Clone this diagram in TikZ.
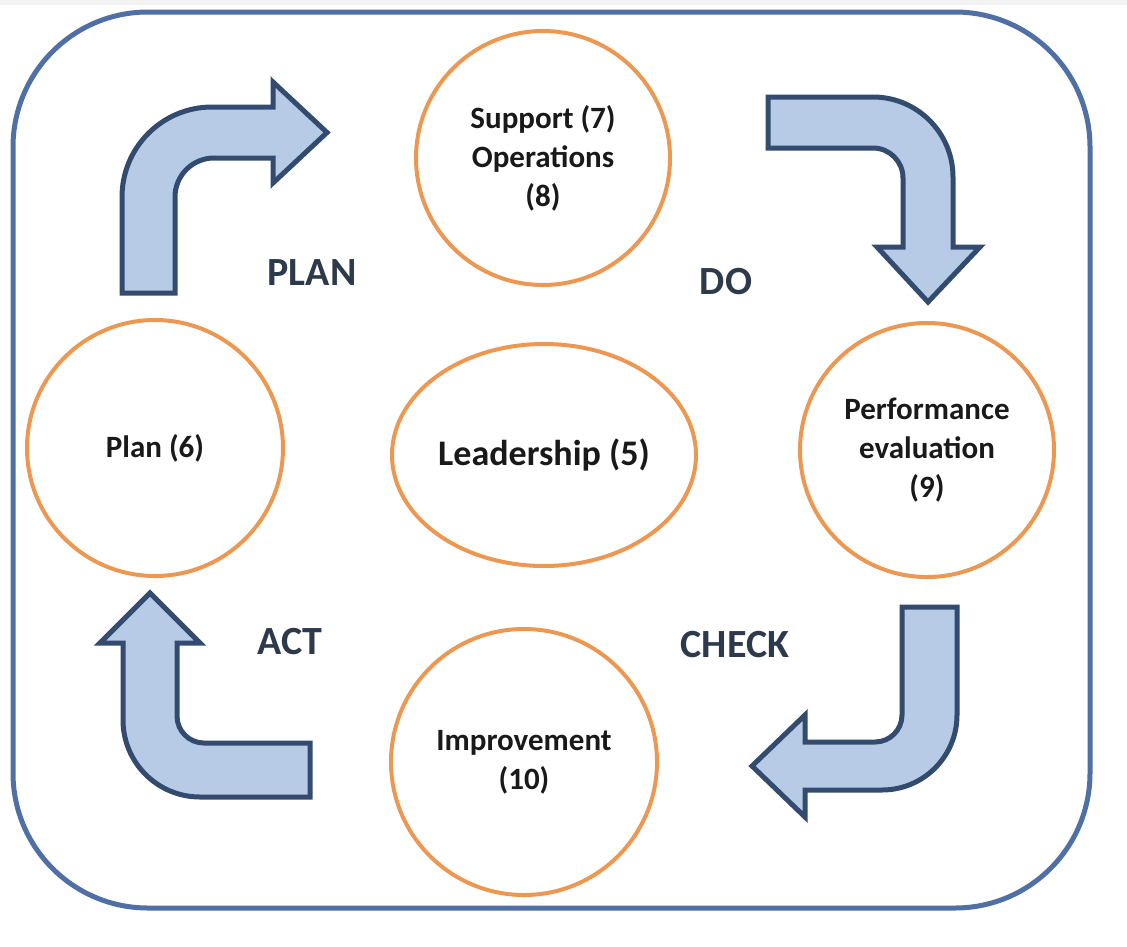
\documentclass[tikz,border=0pt]{standalone}
\usepackage{fontspec}
\setmainfont{Carlito}
\usetikzlibrary{shapes.geometric}
\definecolor{framec}{RGB}{79,111,165}
\definecolor{ringc}{RGB}{236,152,82}
\definecolor{arrfill}{RGB}{183,203,230}
\definecolor{arrline}{RGB}{50,75,110}
\definecolor{phasec}{RGB}{45,58,76}
\begin{document}
\begin{tikzpicture}[x=1pt,y=-1pt,
  ring/.style={draw=ringc, line width=4pt, circle, minimum size=#1, inner sep=0pt, align=center,
    font=\fontsize{31}{39}\selectfont\bfseries, text=black!90},
  phase/.style={font=\fontsize{40}{48}\selectfont\bfseries, text=phasec},
  bent/.style={draw=arrline, fill=arrfill, line width=5pt, line join=miter}]
\useasboundingbox (0,0) rectangle (1127,946);
\fill[black!5] (0,0) rectangle (1127,5);
\draw[framec, line width=5pt, rounded corners=135pt] (13,12) rectangle (1090,908);

% nodes
\node[ring=254] (do) at (543,158) {Support (7)\\Operations\\(8)};
\node[ring=256] (plan) at (155,448) {Plan (6)};
\node[ring=254] (check) at (927,450) {Performance\\evaluation\\(9)};
\node[ring=266] (act) at (524,762) {Improvement\\(10)};
\node[draw=ringc, line width=4pt, ellipse, minimum width=304pt, minimum height=222pt, inner sep=0pt,
  font=\fontsize{36}{42}\selectfont\bfseries, text=black!90] (lead) at (544,455) {Leadership (5)};

\node[phase] (lplan) at (312,273) {PLAN};
\node[phase] (ldo) at (726,282) {DO};
\node[phase] (lact) at (290,642) {ACT};
\node[phase] (lcheck) at (735,645) {CHECK};

% PLAN arrow
\draw[bent] (122,293) -- (122,197) arc[start angle=180, end angle=270, radius=90]
  -- (273,107) -- (273,82) -- (327,132.5) -- (273,183) -- (273,158) -- (214,158)
  arc[start angle=270, end angle=180, radius=39] -- (175,293) -- cycle;
% DO arrow
\draw[bent] (768,97) -- (873,97) arc[start angle=270, end angle=360, radius=80]
  -- (953,247) -- (980,247) -- (928,302) -- (877,247) -- (903,247) -- (903,178)
  arc[start angle=0, end angle=-90, radius=30] -- (768,148) -- cycle;
% CHECK arrow
\draw[bent] (902,607) -- (957,607) -- (957,715) arc[start angle=0, end angle=90, radius=75]
  -- (805,790) -- (805,817) -- (752,766) -- (805,715) -- (805,742) -- (875,742)
  arc[start angle=90, end angle=0, radius=27] -- cycle;
% ACT arrow
\draw[bent] (150,593) -- (200,643) -- (177,643) -- (177,716)
  arc[start angle=180, end angle=90, radius=27] -- (310,743) -- (310,797) -- (200,797)
  arc[start angle=90, end angle=180, radius=77] -- (123,643) -- (100,643) -- cycle;
\end{tikzpicture}
\end{document}
